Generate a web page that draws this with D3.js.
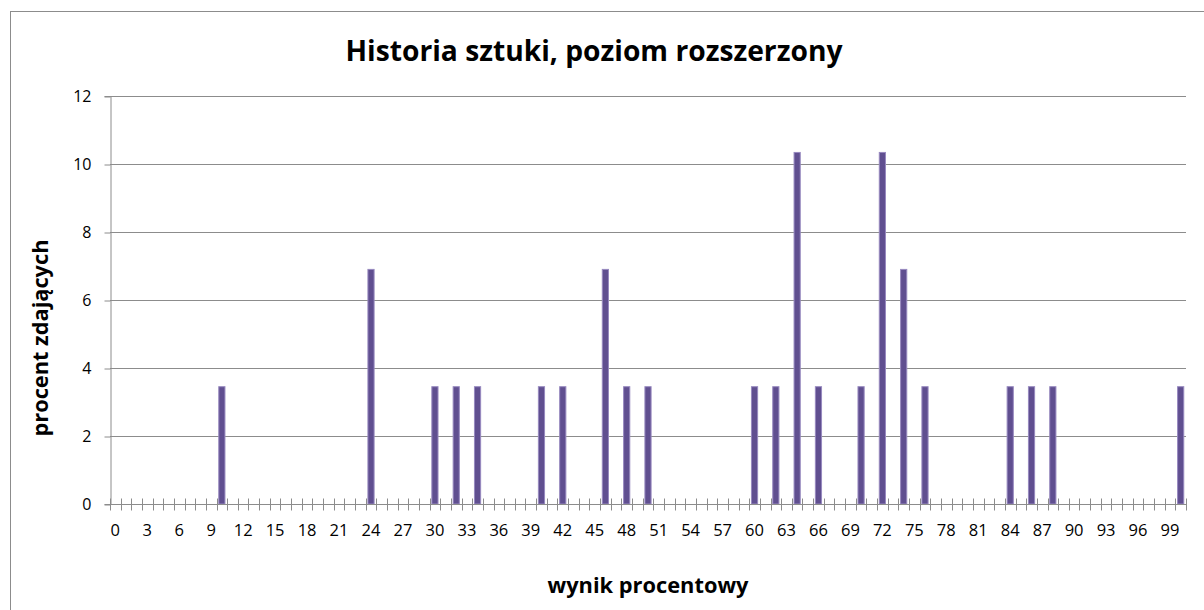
<!DOCTYPE html>
<html>
<head>
<meta charset="utf-8">
<script src="https://cdn.jsdelivr.net/npm/d3@7"></script>
<style>
  body { margin: 0; background: #fff; }
  svg { display: block; font-family: "Open Sans", Lato, sans-serif; }
</style>
</head>
<body>
<div id="chart"></div>
<script>
// Wynik procentowy 0..100, procent zdających (29 osób)
const categories = d3.range(0, 101);
const scoredAt = [10, 24, 30, 32, 34, 40, 42, 46, 48, 50, 60, 62, 64, 66, 70, 72, 74, 76, 84, 86, 88, 100];
const percents = [3.45, 6.9, 3.45, 3.45, 3.45, 3.45, 3.45, 6.9, 3.45, 3.45, 3.45, 3.45, 10.34, 3.45, 3.45, 10.34, 6.9, 3.45, 3.45, 3.45, 3.45, 3.45];
const yTicks = [0, 2, 4, 6, 8, 10, 12];
const xLabelStep = 3;

const width = 1204, height = 610;
const margin = { top: 96, right: 18, bottom: 106, left: 110 };

const svg = d3.select("#chart").append("svg")
  .attr("width", width)
  .attr("height", height);

// shrink/grow a text so it spans roughly the given width
function fitWidth(sel, target) {
  const node = sel.node();
  const size = parseFloat(sel.style("font-size"));
  const w = node.getComputedTextLength();
  if (w > 0) sel.style("font-size", (size * target / w).toFixed(2) + "px");
  return sel;
}

// chart frame (continues past the picture)
svg.append("rect")
  .attr("x", 10.5).attr("y", 11.5)
  .attr("width", 1300).attr("height", 700)
  .attr("fill", "none")
  .attr("stroke", "#8c8c8c");

const x = d3.scaleBand()
  .domain(categories)
  .range([margin.left, width - margin.right])
  .paddingInner(0.42)
  .paddingOuter(0.21);

const y = d3.scaleLinear()
  .domain([0, 12])
  .range([height - margin.bottom, margin.top]);

// gridlines
svg.append("g")
  .selectAll("line")
  .data(yTicks.filter(d => d > 0))
  .enter().append("line")
  .attr("x1", margin.left)
  .attr("x2", width - margin.right)
  .attr("y1", d => Math.round(y(d)) + 0.5)
  .attr("y2", d => Math.round(y(d)) + 0.5)
  .attr("stroke", "#8c8c8c");

// y axis
const yAxis = svg.append("g")
  .attr("transform", `translate(${margin.left + 0.5},0)`)
  .call(d3.axisLeft(y).tickValues(yTicks).tickSize(6).tickPadding(13));
yAxis.attr("font-family", null).attr("font-size", null);
yAxis.selectAll("line").attr("stroke", "#8c8c8c")
  .attr("transform", "translate(0,0.5)");
yAxis.select(".domain").attr("stroke", "#8c8c8c");
yAxis.selectAll("text")
  .style("font-size", "16px")
  .style("fill", "#000");

// bars
const bars = scoredAt.map((c, i) => ({ c: c, v: percents[i] }));
svg.append("g")
  .selectAll("rect")
  .data(bars)
  .enter().append("rect")
  .attr("x", d => x(d.c))
  .attr("y", d => y(d.v))
  .attr("width", x.bandwidth())
  .attr("height", d => y(0) - y(d.v))
  .attr("fill", "#604f90")
  .attr("stroke", "#9789bf")
  .attr("stroke-width", 1);

// x axis: line + crossing ticks at category boundaries
const x0 = Math.round(y(0)) + 0.5;
const step = x.step();
const start = margin.left;
svg.append("line")
  .attr("x1", margin.left).attr("x2", width - margin.right)
  .attr("y1", x0).attr("y2", x0)
  .attr("stroke", "#8c8c8c");
svg.append("g")
  .selectAll("line")
  .data(d3.range(0, categories.length + 1))
  .enter().append("line")
  .attr("x1", i => Math.round(start + i * step) + 0.5)
  .attr("x2", i => Math.round(start + i * step) + 0.5)
  .attr("y1", x0 - 6)
  .attr("y2", x0 + 6)
  .attr("stroke", "#8c8c8c");

svg.append("g")
  .selectAll("text")
  .data(categories.filter(d => d % xLabelStep === 0))
  .enter().append("text")
  .attr("x", d => x(d) + x.bandwidth() / 2)
  .attr("y", x0 + 31)
  .attr("text-anchor", "middle")
  .style("font-size", "16.5px")
  .text(d => d);

// titles
fitWidth(svg.append("text")
  .attr("x", 594)
  .attr("y", 61)
  .attr("text-anchor", "middle")
  .style("font-size", "28px")
  .style("font-weight", "bold")
  .text("Historia sztuki, poziom rozszerzony"), 497);

fitWidth(svg.append("text")
  .attr("x", 648)
  .attr("y", 593)
  .attr("text-anchor", "middle")
  .style("font-size", "18px")
  .style("font-weight", "bold")
  .text("wynik procentowy"), 201);

fitWidth(svg.append("text")
  .attr("transform", "translate(48,338) rotate(-90)")
  .attr("text-anchor", "middle")
  .style("font-size", "18px")
  .style("font-weight", "bold")
  .text("procent zdających"), 197);
</script>
</body>
</html>
